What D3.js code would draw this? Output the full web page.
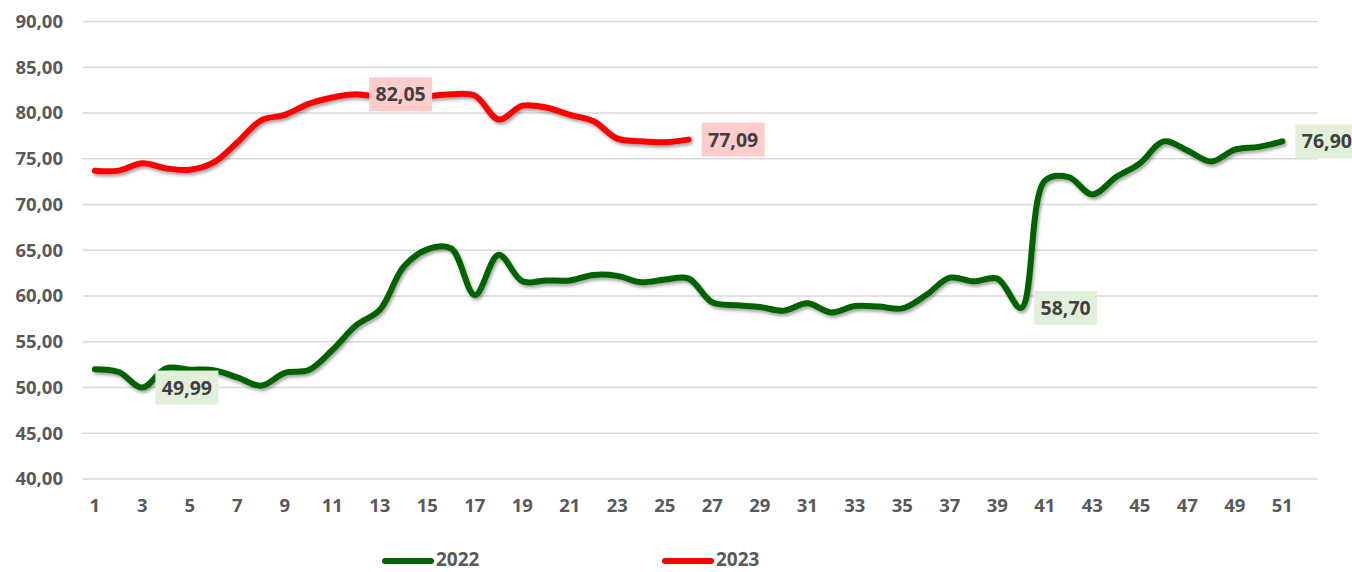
<!DOCTYPE html>
<html>
<head>
<meta charset="utf-8">
<script src="https://cdn.jsdelivr.net/npm/d3@7"></script>
<style>
  body { margin: 0; background: #fff; }
  text { font-family: "Open Sans", "Liberation Sans", sans-serif; font-weight: 700; }
</style>
</head>
<body>
<div class="chart"></div>
<script>
var svgWidth = 1352;
var svgHeight = 572;

// week numbers on the category axis
var weeks = d3.range(1, 53);
var tickWeeks = weeks.filter(d => d % 2 == 1);
var yTicks = [40, 45, 50, 55, 60, 65, 70, 75, 80, 85, 90];

var values2022 = [52.0, 51.7, 49.99, 52.1, 51.95, 51.9, 51.1, 50.2, 51.6, 51.9,
  54.1, 56.8, 58.5, 63.2, 65.1, 65.2, 60.1, 64.5, 61.6, 61.7,
  61.7, 62.3, 62.2, 61.5, 61.8, 61.9, 59.3, 59.0, 58.8, 58.4,
  59.2, 58.2, 58.9, 58.85, 58.65, 60.1, 62.0, 61.6, 61.9, 58.70,
  72.6, 73.0, 71.1, 73.0, 74.5, 76.9, 75.9, 74.7, 76.0, 76.3, 76.90];

var values2023 = [73.7, 73.7, 74.5, 73.95, 73.8, 74.6, 76.8, 79.2, 79.8, 81.0,
  81.7, 82.05, 81.7, 81.4, 81.8, 82.05, 81.9, 79.3, 80.8, 80.6,
  79.8, 79.1, 77.2, 76.9, 76.8, 77.09];

// which points get a value label
var labelIdx2022 = [2, 39, 50];
var labelIdx2023 = [11, 25];

var series = [
  { name: "2022", values: values2022, labels: labelIdx2022, color: "#006400", box: "#e2efda" },
  { name: "2023", values: values2023, labels: labelIdx2023, color: "#ff0000", box: "#ffcccc" }
];

var margin = { top: 21.5, right: 34, bottom: 93, left: 83 };
var width = svgWidth - margin.left - margin.right;
var height = svgHeight - margin.top - margin.bottom;

var svg = d3.select(".chart")
  .append("svg")
  .attr("width", svgWidth)
  .attr("height", svgHeight);

var defs = svg.append("defs");
defs.append("filter")
  .attr("id", "shadow")
  .attr("x", "-5%").attr("y", "-20%")
  .attr("width", "110%").attr("height", "140%")
  .append("feDropShadow")
  .attr("dx", 1.5).attr("dy", 2.5)
  .attr("stdDeviation", 1.8)
  .attr("flood-color", "#000")
  .attr("flood-opacity", 0.35);

var chartGroup = svg.append("g")
  .attr("transform", `translate(${margin.left}, ${margin.top})`);

var xBand = d3.scaleBand().domain(weeks).range([0, width]).padding(0);
var xPos = d => xBand(d) + xBand.bandwidth() / 2;

var yLinearScale = d3.scaleLinear().domain([40, 90]).range([height, 0]);

var fmt = v => d3.format(".2f")(v).replace(".", ",");

// gridlines
chartGroup.append("g")
  .selectAll("line")
  .data(yTicks)
  .enter()
  .append("line")
  .attr("x1", 0)
  .attr("x2", width)
  .attr("y1", d => yLinearScale(d))
  .attr("y2", d => yLinearScale(d))
  .attr("stroke", "#d9d9d9")
  .attr("stroke-width", 1.5);

// y axis
var leftAxis = d3.axisLeft(yLinearScale).tickValues(yTicks).tickFormat(fmt).tickSize(0).tickPadding(20);
var yAxis = chartGroup.append("g").call(leftAxis);
yAxis.select(".domain").remove();
yAxis.selectAll("text")
  .attr("fill", "#595959")
  .style("font-size", "18.5px");

// x axis
var bottomAxis = d3.axisBottom(xBand).tickValues(tickWeeks).tickSize(0).tickPadding(20);
var xAxis = chartGroup.append("g")
  .attr("transform", `translate(0, ${height})`)
  .call(bottomAxis);
xAxis.select(".domain").remove();
xAxis.selectAll("text")
  .attr("fill", "#595959")
  .style("font-size", "18.5px");

var line = d3.line()
  .x((d, i) => xPos(weeks[i]))
  .y(d => yLinearScale(d))
  .curve(d3.curveCatmullRom.alpha(0.5));

// lines
chartGroup.selectAll(".series")
  .data(series)
  .enter()
  .append("path")
  .attr("class", "series")
  .attr("d", d => line(d.values))
  .attr("fill", "none")
  .attr("stroke", d => d.color)
  .attr("stroke-width", 6)
  .attr("stroke-linecap", "round")
  .attr("stroke-linejoin", "round")
  .attr("filter", "url(#shadow)");

// value labels, to the right of the point
series.forEach(function (s) {
  var lbl = chartGroup.append("g")
    .selectAll("g")
    .data(s.labels)
    .enter()
    .append("g")
    .attr("transform", i => `translate(${xPos(weeks[i]) + 13}, ${yLinearScale(s.values[i])})`);

  lbl.append("rect")
    .attr("x", 0)
    .attr("y", -17)
    .attr("width", 63)
    .attr("height", 34)
    .attr("fill", s.box);

  lbl.append("text")
    .attr("x", 31.5)
    .attr("y", 0)
    .attr("dy", "0.36em")
    .attr("text-anchor", "middle")
    .attr("fill", "#404040")
    .style("font-size", "19.5px")
    .text(i => fmt(s.values[i]));
});

// legend
var legend = svg.append("g")
  .selectAll("g")
  .data(series)
  .enter()
  .append("g")
  .attr("transform", (d, i) => `translate(${383 + i * 280}, 561)`);

legend.append("line")
  .attr("x1", 2).attr("x2", 48)
  .attr("y1", 0).attr("y2", 0)
  .attr("stroke", d => d.color)
  .attr("stroke-width", 6)
  .attr("stroke-linecap", "round");

legend.append("text")
  .attr("x", 53)
  .attr("y", 5)
  .attr("fill", "#595959")
  .style("font-size", "19px")
  .text(d => d.name);
</script>
</body>
</html>
